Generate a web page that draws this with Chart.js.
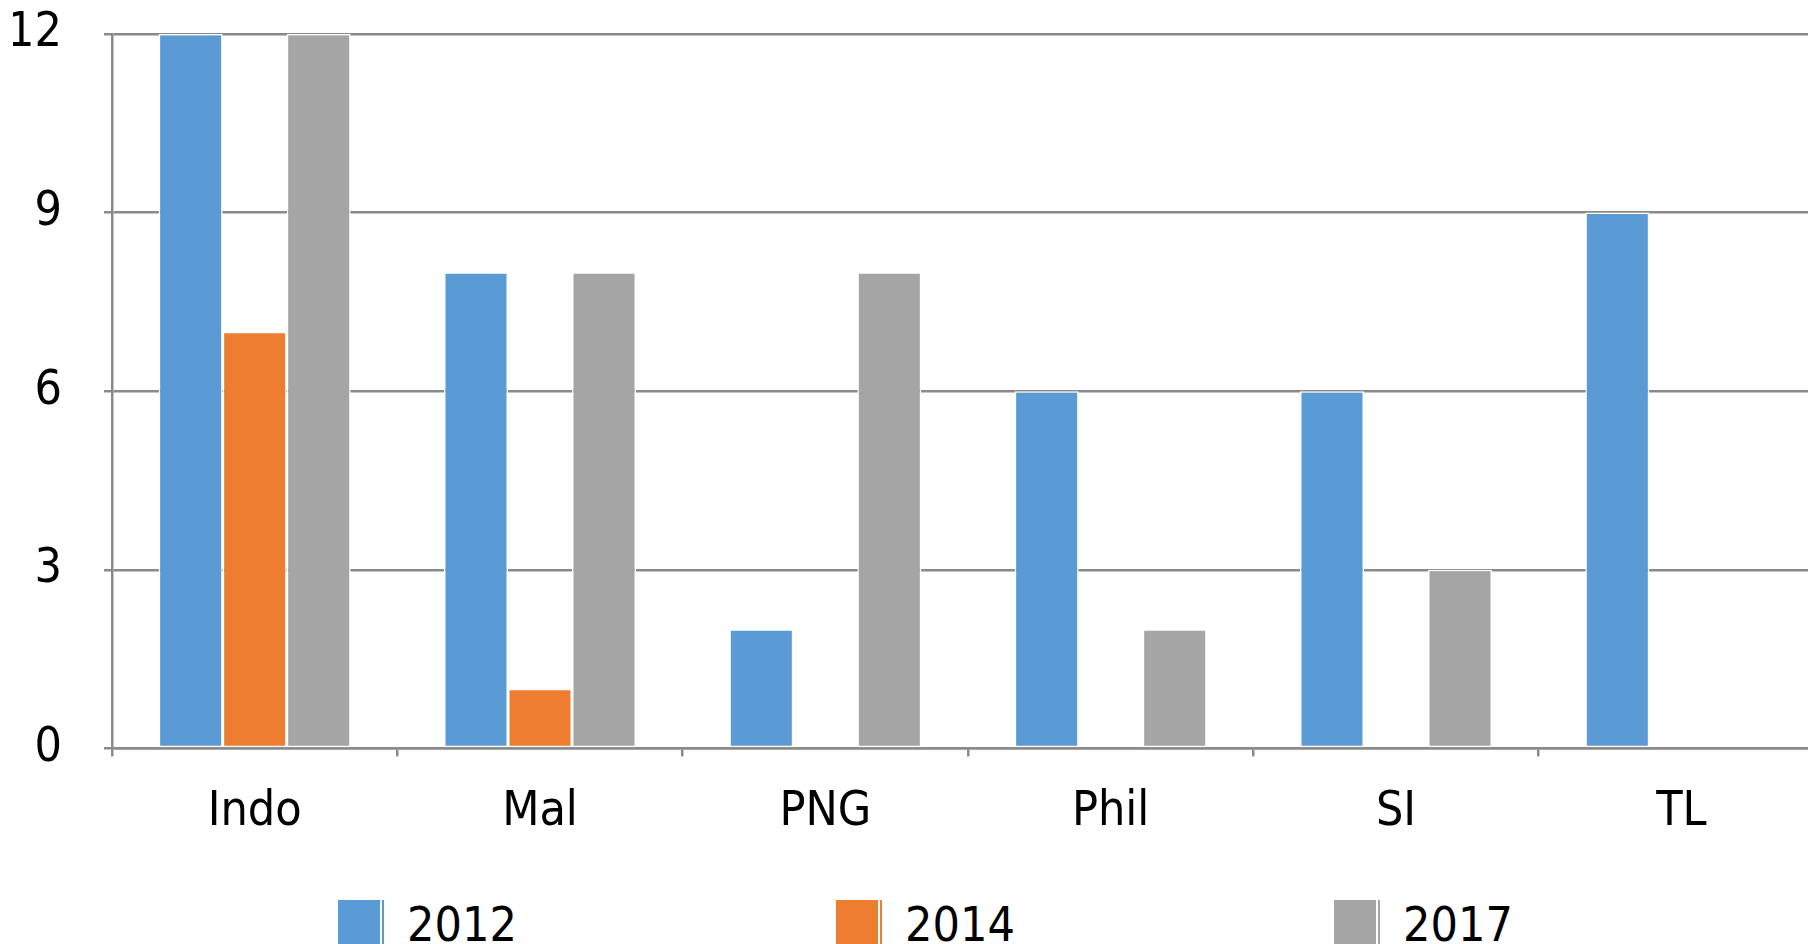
<!DOCTYPE html>
<html>
<head>
<meta charset="utf-8">
<script src="https://cdn.jsdelivr.net/npm/chart.js@4.4.1/dist/chart.umd.min.js"></script>
<style>
  html, body { margin: 0; padding: 0; background: #fff; overflow: hidden; width: 1808px; height: 944px; }
  #wrap { position: absolute; left: 0; top: 0; width: 1830px; height: 870px; }
  #legend { position: absolute; left: 338px; top: 900px; display: flex;
            font-family: "DejaVu Sans Condensed", "Liberation Sans Narrow", sans-serif; font-size: 48px; line-height: 1; color: #000; }
  .item { display: flex; align-items: flex-start; flex: 0 0 498px; }
  .box { width: 42px; height: 50px; margin-top: 0px; margin-right: 27px; }
</style>
</head>
<body>
<div id="wrap"><canvas id="chart"></canvas></div>
<div id="legend"></div>
<script>
// categories + series
const categories = ["Indo", "Mal", "PNG", "Phil", "SI", "TL"];
const seriesNames = ["2012", "2014", "2017"];
const values2012 = [12, 8, 2, 6, 6, 9];
const values2014 = [7, 1, 0, 0, 0, 0];
const values2017 = [12, 8, 8, 2, 3, 0];
const yTicks = [0, 3, 6, 9, 12];
const colors = ["#5B9BD5", "#ED7D31", "#A5A5A5"];

const FONT = "'DejaVu Sans Condensed', 'Liberation Sans Narrow', sans-serif";
const GRID = "#8a8a8a";

const allValues = [values2012, values2014, values2017];
const datasets = seriesNames.map((name, i) => ({
    label: name,
    data: allValues[i],
    backgroundColor: colors[i],
    borderColor: "#ffffff",
    borderWidth: 1.5,
    borderSkipped: false,
    categoryPercentage: 0.673,
    barPercentage: 1.0
}));

const chart = new Chart(document.getElementById('chart').getContext('2d'), {
    type: 'bar',
    data: { labels: categories, datasets: datasets },
    options: {
        responsive: true, maintainAspectRatio: false, animation: false,
        layout: { padding: { top: 34, left: 13, right: 6, bottom: 2 } },
        plugins: { legend: { display: false }, tooltip: { enabled: false } },
        scales: {
            x: {
                offset: true,
                grid: { display: true, offset: true, drawOnChartArea: false, drawTicks: true, tickLength: 8, color: GRID, lineWidth: 2.5 },
                border: { display: true, color: GRID, width: 2.5 },
                ticks: { color: "#000", padding: 27, font: { family: FONT, size: 48 } }
            },
            y: {
                min: 0, max: 12,
                afterBuildTicks: (axis) => { axis.ticks = yTicks.map(v => ({ value: v })); },
                // keep the axis line at x=112 and stop the tick padding from eating the top
                afterFit: (axis) => { axis.width = 99; axis.paddingTop = 0; axis.paddingBottom = 0; },
                grid: { color: GRID, lineWidth: 2.5, tickLength: 8, drawTicks: true },
                border: { display: true, color: GRID, width: 2.5 },
                ticks: { color: "#000", padding: 42, font: { family: FONT, size: 48 } }
            }
        }
    }
});

// legend as html, built from the same series
const legendEl = document.getElementById('legend');
seriesNames.forEach((name, i) => {
    legendEl.innerHTML += `<div class="item"><div class="box" style="background:${colors[i]};box-shadow:2px 0 0 #fff, 4px 0 0 ${colors[i]};"></div><span>${name}</span></div>`;
});
</script>
</body>
</html>
